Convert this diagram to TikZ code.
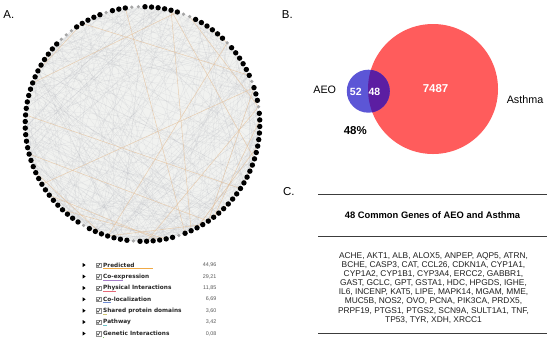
\documentclass[tikz,border=0pt]{standalone}
\usepackage{fontspec}
\setmainfont{Liberation Sans}
\newfontfamily\legfont{DejaVu Sans}
\usetikzlibrary{calc}
\definecolor{venred}{RGB}{255,92,92}
\definecolor{venblue}{RGB}{92,86,214}
\definecolor{venmix}{RGB}{92,30,162}
\definecolor{diskfill}{RGB}{241,242,240}
\definecolor{chordgrey}{RGB}{180,182,190}
\definecolor{tanline}{RGB}{228,190,150}
\definecolor{dotgrey}{RGB}{165,165,165}
\definecolor{ruleclr}{RGB}{60,60,60}
\definecolor{wPred}{RGB}{240,170,70}
\definecolor{wCoex}{RGB}{165,125,200}
\definecolor{wPhys}{RGB}{230,105,120}
\definecolor{wColo}{RGB}{110,140,210}
\definecolor{wShar}{RGB}{205,195,110}
\definecolor{wPath}{RGB}{110,195,200}
\definecolor{wGene}{RGB}{130,200,110}
\makeatletter
\newcommand\pickdot[1]{%
  \edef\pd@tmp{\noexpand\in@{,#1,}{,0,7,8,15,22,26,51,58,66,99,100,101,107,111,}}\pd@tmp
  \ifin@\def\dotst{greydot}\else\def\dotst{blackdot}\fi}
\makeatother
\tikzset{
  blackdot/.style={circle, fill=black, inner sep=0pt, minimum size=5.4bp},
  greydot/.style={circle, fill=dotgrey, inner sep=0pt, minimum size=3.6bp},
  chord/.style={draw=chordgrey, line width=0.25bp, opacity=0.25},
  tanchord/.style={draw=tanline, line width=0.5bp, opacity=0.7},
  panellabel/.style={anchor=base west, inner sep=0pt, font=\fontsize{11.5}{13}\selectfont},
  leglabel/.style={anchor=west, inner sep=0pt, text=black!85, font={\fontsize{5.8}{7}\legfont\bfseries}},
  legnum/.style={anchor=east, inner sep=0pt, text=black!65, font=\fontsize{5.4}{6}\selectfont},
  venntext/.style={inner sep=0pt, font=\fontsize{10.8}{12}\selectfont},
  vennnum/.style={inner sep=0pt, text=white, font=\fontsize{10.5}{12}\selectfont\bfseries},
  ruleln/.style={draw=ruleclr, line width=0.9bp},
}
\begin{document}
\begin{tikzpicture}[x=1bp,y=-1bp]
\useasboundingbox (0,0) rectangle (550,347);
\fill[white] (0,0) rectangle (550,347);

% ---------- Panel A: network ----------
\node[panellabel] (labA) at (3.3,18.3) {A.};
\coordinate (ctr) at (142.5,124);
\fill[diskfill] (ctr) circle[radius=116];
\foreach \i in {0,...,111}{
  \pgfmathsetmacro\ang{-(92-\i*3.2142857)}
  \coordinate (c\i) at ($(ctr)+(\ang:117.3)$);
}
\pgfmathsetseed{4242}
\foreach \k in {1,...,380}{
  \pgfmathrandominteger{\a}{0}{111}
  \pgfmathrandominteger{\b}{0}{111}
  \draw[chord] (c\a) -- (c\b);
}
\foreach \k in {1,...,24}{
  \pgfmathrandominteger{\a}{0}{111}
  \pgfmathrandominteger{\b}{0}{111}
  \draw[tanchord] (c\a) -- (c\b);
}
\foreach \i in {0,...,111}{
  \pickdot{\i}
  \node[\dotst] (n\i) at (c\i) {};
}

% ---------- Legend ----------
\foreach \yy/\lab/\num/\bl/\col [count=\r] in {
  265/Predicted/{44,96}/50/wPred,
  276.5/Co-expression/{29,21}/20/wCoex,
  288/Physical Interactions/{11,85}/13/wPhys,
  299.3/Co-localization/{6,69}/8/wColo,
  310.7/Shared protein domains/{3,60}/4/wShar,
  322/Pathway/{3,42}/4/wPath,
  333.5/Genetic Interactions/{0,08}/0.4/wGene}{
  \fill (82.7,\yy-2) -- (85.6,\yy) -- (82.7,\yy+2) -- cycle;
  \draw[draw=black!45, line width=0.4bp, fill=white] (96,\yy-2.3) rectangle (100.7,\yy+2.3);
  \draw[black!75, line width=0.6bp] (96.9,\yy) -- (98.1,\yy+1.5) -- (100.1,\yy-1.6);
  \node[leglabel] (lg\r) at (103,\yy) {\lab};
  \fill[\col] (103.3,\yy+3) rectangle ++(\bl,0.9);
  \node[legnum] (lv\r) at (216.5,\yy) {\num};
}

% ---------- Panel B: Venn ----------
\node[panellabel] (labB) at (281.7,18.3) {B.};
\fill[venred] (433,89) circle[radius=65];
\fill[venblue] (368.3,91.2) circle[radius=21.5];
\begin{scope}
  \clip (433,89) circle[radius=65];
  \fill[venmix] (368.3,91.2) circle[radius=21.5];
\end{scope}
\node[venntext] (aeo) at (324.7,89.3) {AEO};
\node[vennnum] (n52) at (355.8,91.6) {52};
\node[vennnum] (n48) at (374.4,91.6) {48};
\node[vennnum, font=\fontsize{11.5}{13}\selectfont\bfseries] (n7487) at (435.5,89) {7487};
\node[venntext] (asthma) at (525,100) {Asthma};
\node[inner sep=0pt, font=\fontsize{11.5}{13}\selectfont\bfseries] (pct) at (355.3,131) {48\%};

% ---------- Panel C: table ----------
\node[panellabel] (labC) at (283,195) {C.};
\coordinate (r1a) at (318,194.5); \coordinate (r1b) at (547,194.5);
\coordinate (r2a) at (318,236);   \coordinate (r2b) at (547,236);
\coordinate (r3a) at (318,333);   \coordinate (r3b) at (547,333);
\draw[ruleln] (r1a) -- (r1b);
\draw[ruleln] (r2a) -- (r2b);
\draw[ruleln] (r3a) -- (r3b);
\node[inner sep=0pt, font=\fontsize{9.4}{11}\selectfont\bfseries] (ttl) at (432.5,215) {48 Common Genes of AEO and Asthma};
\node[inner sep=0pt, align=center, text=black!88, font=\fontsize{8.4}{9.1}\selectfont] (genes) at (433.5,288) {%
ACHE, AKT1, ALB, ALOX5, ANPEP, AQP5, ATRN,\\
BCHE, CASP3, CAT, CCL26, CDKN1A, CYP1A1,\\
CYP1A2, CYP1B1, CYP3A4, ERCC2, GABBR1,\\
GAST, GCLC, GPT, GSTA1, HDC, HPGDS, IGHE,\\
IL6, INCENP, KAT5, LIPE, MAPK14, MGAM, MME,\\
MUC5B, NOS2, OVO, PCNA, PIK3CA, PRDX5,\\
PRPF19, PTGS1, PTGS2, SCN9A, SULT1A1, TNF,\\
TP53, TYR, XDH, XRCC1};
\end{tikzpicture}
\end{document}
